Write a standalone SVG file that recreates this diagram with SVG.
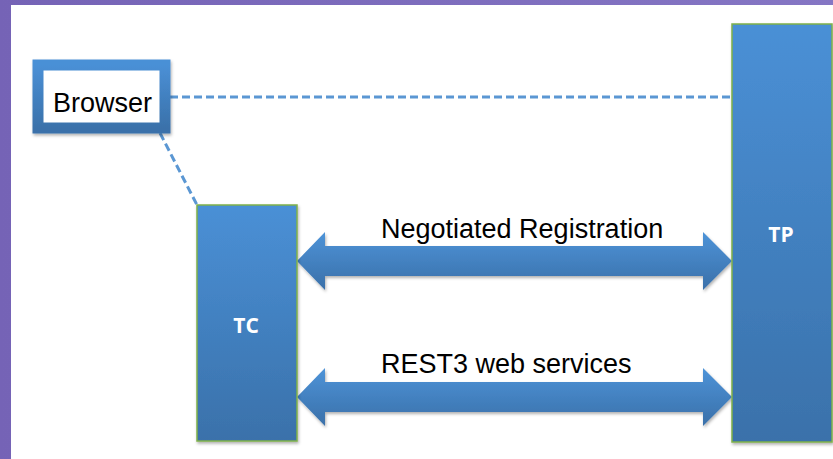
<svg xmlns="http://www.w3.org/2000/svg" width="833" height="459" viewBox="0 0 833 459">
  <defs>
    <linearGradient id="bgPurple" x1="0" y1="0" x2="1" y2="0">
      <stop offset="0" stop-color="#7563b6"/>
      <stop offset="1" stop-color="#8576c4"/>
    </linearGradient>
    <linearGradient id="blueV" x1="0" y1="0" x2="0" y2="1">
      <stop offset="0" stop-color="#4a90d6"/>
      <stop offset="1" stop-color="#3a71aa"/>
    </linearGradient>
    <linearGradient id="arrowG" x1="0" y1="0" x2="0" y2="1">
      <stop offset="0" stop-color="#4d93d8"/>
      <stop offset="1" stop-color="#3a70a9"/>
    </linearGradient>
    <filter id="shadow" x="-10%" y="-10%" width="130%" height="130%">
      <feDropShadow dx="1" dy="2" stdDeviation="1.5" flood-color="#000" flood-opacity="0.3"/>
    </filter>
  </defs>
  <style>
    .box { fill: url(#blueV); stroke: #7fb04a; stroke-width: 1.5; filter: url(#shadow); }
    .arrow { fill: url(#arrowG); filter: url(#shadow); }
    .dash { fill: none; stroke: #5b97d3; stroke-width: 3; stroke-dasharray: 8 4; }
    .label { font-family: "Liberation Sans", Arial, sans-serif; font-size: 27px; fill: #000; }
    .nodeText { font-family: "Open Sans", "Liberation Sans", sans-serif; font-size: 21px; font-weight: bold; fill: #fff; text-anchor: middle; }
  </style>

  <rect x="0" y="0" width="833" height="459" fill="url(#bgPurple)"/>
  <rect x="11" y="5" width="822" height="454" fill="#ffffff"/>

  <g id="connectors">
    <line class="dash" x1="170" y1="97" x2="732" y2="97"/>
    <line class="dash" x1="160" y1="133" x2="197" y2="205"/>
    <polygon id="arrow-registration" class="arrow" points="297,261 325,232 325,246 703,246 703,232 732,261 703,290 703,276 325,276 325,290"/>
    <polygon id="arrow-rest3" class="arrow" points="297,397 325,368 325,382 703,382 703,368 732,397 703,426 703,412 325,412 325,426"/>
    <text class="label" x="381" y="238">Negotiated Registration</text>
    <text class="label" x="381" y="373">REST3 web services</text>
  </g>

  <g id="browser">
    <rect x="38" y="65" width="127" height="63" fill="#ffffff" stroke="url(#blueV)" stroke-width="11" filter="url(#shadow)"/>
    <text class="label" x="53" y="112">Browser</text>
  </g>

  <g id="tc">
    <rect class="box" x="197" y="205" width="100" height="236"/>
    <text class="nodeText" x="246" y="333">TC</text>
  </g>

  <g id="tp">
    <rect class="box" x="732" y="24" width="100" height="418"/>
    <text class="nodeText" x="781" y="242">TP</text>
  </g>
</svg>
